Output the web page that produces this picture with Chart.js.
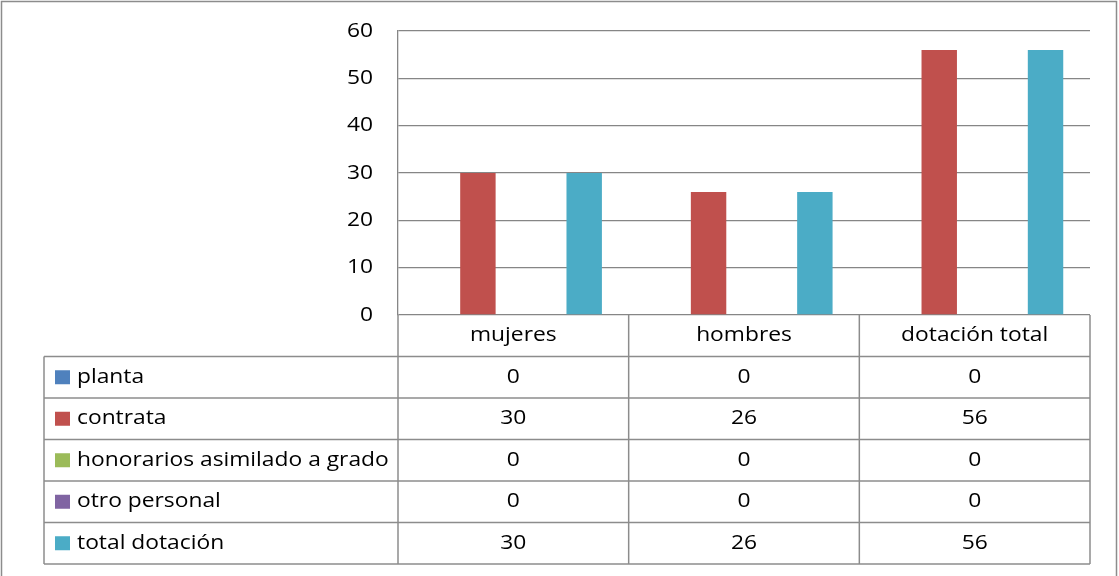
<!DOCTYPE html>
<html lang="es">
<head>
<meta charset="UTF-8">
<title>Dotación de personal</title>
<style>
  html, body { margin: 0; padding: 0; background: #fff; }
  #wrap { width: 1119px; height: 576px; }
</style>
</head>
<body>
<div id="wrap"><canvas id="chart" width="1119" height="576"></canvas></div>
<script src="https://cdn.jsdelivr.net/npm/chart.js"></script>
<script>
const categories = ['mujeres', 'hombres', 'dotación total'];
const seriesNames = ['planta', 'contrata', 'honorarios asimilado a grado', 'otro personal', 'total dotación'];
const planta = [0, 0, 0];
const contrata = [30, 26, 56];
const honorarios = [0, 0, 0];
const otroPersonal = [0, 0, 0];
const totalDotacion = [30, 26, 56];
const seriesColors = ['#4F81BD', '#C0504D', '#9BBB59', '#8064A2', '#4BACC6'];
const yMax = 60;
const yStep = 10;

const allSeries = [planta, contrata, honorarios, otroPersonal, totalDotacion];

const FONT = '20px "Open Sans"';
const SX = 1.14;          // text in the original is a bit wider than it is tall
const LINE = '#8C8C8C';
const ROW_H = 41.5;
const TABLE_LEFT = 44;

function stretchedText(ctx, text, x, y, align) {
  ctx.save();
  ctx.translate(x, y);
  ctx.scale(SX, 1);
  ctx.textAlign = align;
  ctx.textBaseline = 'middle';
  ctx.fillText(text, 0, 0);
  ctx.restore();
}

function hLine(ctx, x1, x2, y) {
  ctx.beginPath(); ctx.moveTo(x1, y); ctx.lineTo(x2, y); ctx.stroke();
}
function vLine(ctx, x, y1, y2) {
  ctx.beginPath(); ctx.moveTo(x, y1); ctx.lineTo(x, y2); ctx.stroke();
}

const tablePlugin = {
  id: 'dataTable',
  afterDraw(chart) {
    const ctx = chart.ctx;
    const area = chart.chartArea;
    const xs = chart.scales.x;
    const ys = chart.scales.y;
    const colW = xs.width / categories.length;
    const top = area.bottom;
    const bottom = top + ROW_H * (seriesNames.length + 1);

    ctx.save();
    // outer frame
    ctx.strokeStyle = '#8C8C8C';
    ctx.lineWidth = 1.5;
    ctx.beginPath();
    ctx.moveTo(1.5, 580); ctx.lineTo(1.5, 1.5); ctx.lineTo(1116.5, 1.5); ctx.lineTo(1116.5, 580);
    ctx.stroke();

    // table grid
    ctx.strokeStyle = LINE;
    ctx.lineWidth = 1.5;
    for (let r = 1; r <= seriesNames.length + 1; r++) {
      hLine(ctx, TABLE_LEFT, area.right, top + r * ROW_H);
    }
    vLine(ctx, TABLE_LEFT, top + ROW_H, bottom);
    vLine(ctx, area.left, top, bottom);
    categories.forEach((c, i) => {
      const right = xs.getPixelForValue(i) + colW / 2;
      vLine(ctx, right, top, bottom);
    });

    // y tick labels
    ctx.fillStyle = '#000';
    ctx.font = FONT;
    ys.ticks.forEach(t => {
      stretchedText(ctx, String(t.value), area.left - 25, ys.getPixelForValue(t.value), 'right');
    });

    // header row
    categories.forEach((c, i) => {
      stretchedText(ctx, c, xs.getPixelForValue(i), top + ROW_H / 2, 'center');
    });

    // series rows
    seriesNames.forEach((name, s) => {
      const cy = top + ROW_H * (s + 1) + ROW_H / 2;
      ctx.fillStyle = seriesColors[s];
      ctx.fillRect(55, cy - 7, 15, 14);
      ctx.fillStyle = '#000';
      stretchedText(ctx, name, 77, cy, 'left');
      allSeries[s].forEach((v, i) => {
        stretchedText(ctx, String(v), xs.getPixelForValue(i), cy, 'center');
      });
    });
    ctx.restore();
  }
};

new Chart(document.getElementById('chart'), {
  type: 'bar',
  data: {
    labels: categories,
    datasets: seriesNames.map((name, s) => ({
      label: name,
      data: allSeries[s],
      backgroundColor: seriesColors[s],
      borderWidth: 0,
      categoryPercentage: 0.768,
      barPercentage: 1.0
    }))
  },
  options: {
    responsive: false,
    devicePixelRatio: 1,
    animation: false,
    layout: { padding: { top: 31, right: 29, bottom: 261, left: 0 } },
    plugins: { legend: { display: false }, tooltip: { enabled: false } },
    scales: {
      x: { display: false },
      y: {
        min: 0,
        max: yMax,
        ticks: { stepSize: yStep, display: false },
        grid: { color: '#868686', lineWidth: 1.3, drawTicks: false },
        border: { display: true, color: '#868686', width: 1.3 },
        afterFit(scale) { scale.width = 398; }
      }
    }
  },
  plugins: [tablePlugin]
});
</script>
</body>
</html>
